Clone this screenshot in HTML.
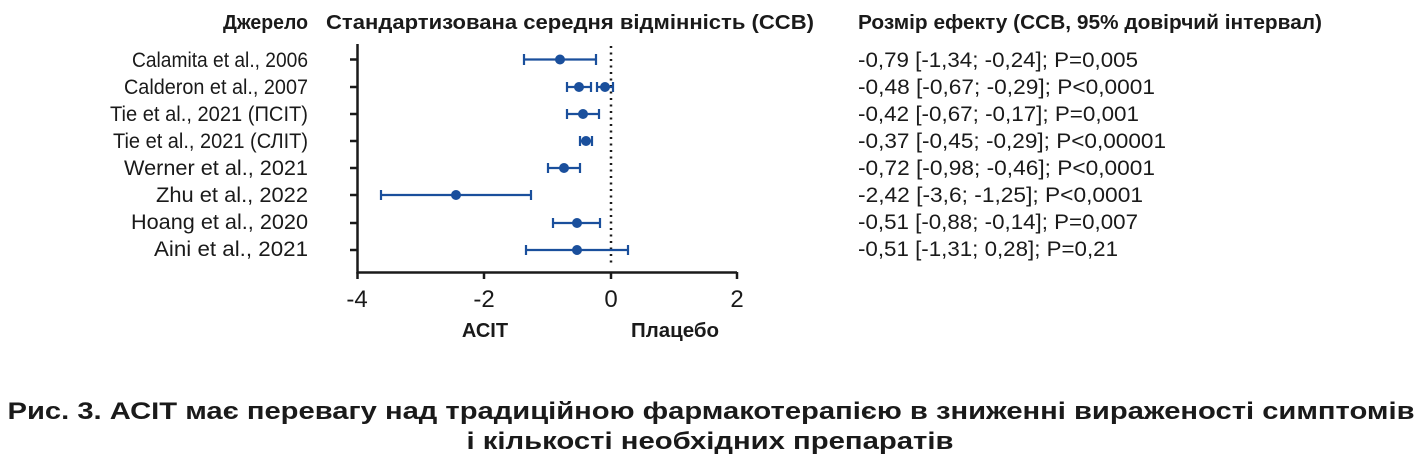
<!DOCTYPE html>
<html><head><meta charset="utf-8"><style>
html,body{margin:0;padding:0;background:#fff;}
svg{display:block;}
text{font-family:"Liberation Sans",sans-serif;fill:#1a1a1a;}
</style></head><body>
<svg width="1422" height="463" viewBox="0 0 1422 463" xmlns="http://www.w3.org/2000/svg">
<g font-size="21">
<text x="308" y="29" text-anchor="end" textLength="85" lengthAdjust="spacingAndGlyphs" font-weight="bold" font-size="20">Джерело</text>
<text x="326" y="29" textLength="488" lengthAdjust="spacingAndGlyphs" font-weight="bold" font-size="20">Стандартизована середня відмінність (ССВ)</text>
<text x="858" y="29" textLength="464" lengthAdjust="spacingAndGlyphs" font-weight="bold" font-size="20">Розмір ефекту (ССВ, 95% довірчий інтервал)</text>

<text x="132" y="67" textLength="176" lengthAdjust="spacingAndGlyphs">Calamita et al., 2006</text>
<text x="124" y="94" textLength="184" lengthAdjust="spacingAndGlyphs">Calderon et al., 2007</text>
<text x="110" y="121" textLength="198" lengthAdjust="spacingAndGlyphs">Tie et al., 2021 (ПСІТ)</text>
<text x="113" y="148" textLength="195" lengthAdjust="spacingAndGlyphs">Tie et al., 2021 (СЛІТ)</text>
<text x="124" y="175" textLength="184" lengthAdjust="spacingAndGlyphs">Werner et al., 2021</text>
<text x="156" y="202" textLength="152" lengthAdjust="spacingAndGlyphs">Zhu et al., 2022</text>
<text x="131" y="229" textLength="177" lengthAdjust="spacingAndGlyphs">Hoang et al., 2020</text>
<text x="154" y="256" textLength="154" lengthAdjust="spacingAndGlyphs">Aini et al., 2021</text>

<text x="858" y="67" textLength="280" lengthAdjust="spacingAndGlyphs">-0,79 [-1,34; -0,24]; P=0,005</text>
<text x="858" y="94" textLength="297" lengthAdjust="spacingAndGlyphs">-0,48 [-0,67; -0,29]; P&lt;0,0001</text>
<text x="858" y="121" textLength="281" lengthAdjust="spacingAndGlyphs">-0,42 [-0,67; -0,17]; P=0,001</text>
<text x="858" y="148" textLength="308" lengthAdjust="spacingAndGlyphs">-0,37 [-0,45; -0,29]; P&lt;0,00001</text>
<text x="858" y="175" textLength="297" lengthAdjust="spacingAndGlyphs">-0,72 [-0,98; -0,46]; P&lt;0,0001</text>
<text x="858" y="202" textLength="285" lengthAdjust="spacingAndGlyphs">-2,42 [-3,6; -1,25]; P&lt;0,0001</text>
<text x="858" y="229" textLength="280" lengthAdjust="spacingAndGlyphs">-0,51 [-0,88; -0,14]; P=0,007</text>
<text x="858" y="256" textLength="260" lengthAdjust="spacingAndGlyphs">-0,51 [-1,31; 0,28]; P=0,21</text>
</g>

<g stroke="#1a1a1a" stroke-width="2.5" fill="none">
<path d="M357.5 44 V272.5 H737"/>
<path d="M350 59.5H357 M350 87H357 M350 114H357 M350 141H357 M350 168H357 M350 195H357 M350 223H357 M350 250H357"/>
<path d="M357.5 272V279 M484 272V279 M611 272V279 M737 272V279"/>
</g>
<line x1="611" y1="46" x2="611" y2="266" stroke="#1a1a1a" stroke-width="2.5" stroke-dasharray="2,4.5"/>

<g font-size="24" text-anchor="middle">
<text x="357" y="307">-4</text>
<text x="484" y="307">-2</text>
<text x="611" y="307">0</text>
<text x="737" y="307">2</text>
</g>
<g font-size="20" font-weight="bold">
<text x="485" y="337" text-anchor="middle">АСІТ</text>
<text x="631" y="337" textLength="88" lengthAdjust="spacingAndGlyphs">Плацебо</text>
</g>

<g stroke="#1a4f9c" stroke-width="2.2" fill="none">
<path d="M524 59.5H596 M524 54V65 M596 54V65"/>
<path d="M567 87H591 M567 82V92 M591 82V92"/>
<path d="M597 87H613 M597 82V92 M613 82V92"/>
<path d="M567 114H599 M567 109V119 M599 109V119"/>
<path d="M580 141H592 M580 136V146 M592 136V146"/>
<path d="M548 168H580 M548 163V173 M580 163V173"/>
<path d="M381 195H531 M381 190V200 M531 190V200"/>
<path d="M553 223H600 M553 218V228 M600 218V228"/>
<path d="M526 250H628 M526 245V255 M628 245V255"/>
</g>
<g fill="#1a4f9c">
<circle cx="560" cy="59.5" r="5"/>
<circle cx="579" cy="87" r="5"/>
<circle cx="605" cy="87" r="5"/>
<circle cx="583" cy="114" r="5"/>
<circle cx="586" cy="141" r="5"/>
<circle cx="564" cy="168" r="5"/>
<circle cx="456" cy="195" r="5"/>
<circle cx="577" cy="223" r="5"/>
<circle cx="577" cy="250" r="5"/>
</g>

<g font-size="24" font-weight="bold" text-anchor="middle">
<text x="711" y="419" textLength="1407" lengthAdjust="spacingAndGlyphs">Рис. 3. АСІТ має перевагу над традиційною фармакотерапією в зниженні вираженості симптомів</text>
<text x="710" y="449" textLength="487" lengthAdjust="spacingAndGlyphs">і кількості необхідних препаратів</text>
</g>
</svg>
</body></html>
